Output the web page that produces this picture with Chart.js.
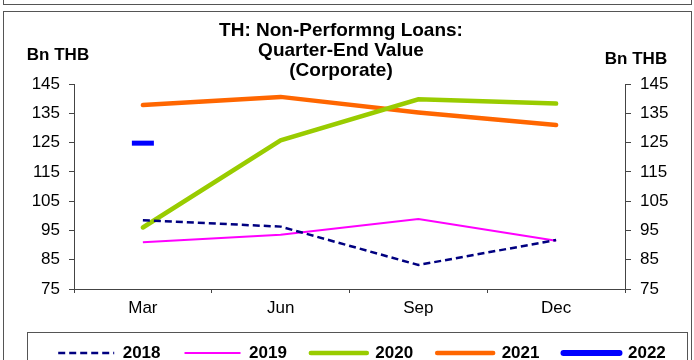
<!DOCTYPE html>
<html>
<head>
<meta charset="utf-8">
<script src="https://cdn.jsdelivr.net/npm/chart.js@4.4.1/dist/chart.umd.min.js"></script>
<style>
html, body { margin: 0; padding: 0; background: #fff; overflow: hidden; }
#wrap { position: relative; width: 694px; height: 360px; overflow: hidden; }
.frame { position: absolute; border: 1px solid #555; }
#nplChart { position: absolute; left: 0; top: 0; }
</style>
</head>
<body>
<div id="wrap">
    <div class="frame" style="left:3px; top:-10px; width:687px; height:13px;"></div>
    <div class="frame" style="left:3px; top:11px; width:687px; height:400px;"></div>
    <canvas id="nplChart"></canvas>
</div>
<script>
// Данные
const quarters = ['Mar', 'Jun', 'Sep', 'Dec'];
const years = ['2018', '2019', '2020', '2021', '2022'];
const npl2018 = [98.5, 96.3, 83.2, 91.7];
const npl2019 = [91.0, 93.5, 98.9, 91.5];
const npl2020 = [96.0, 125.8, 139.8, 138.3];
const npl2021 = [137.8, 140.6, 135.3, 131.0];
const npl2022 = [124.8, null, null, null];
const axisMin = 75;
const axisMax = 145;
const axisStep = 10;
const titleLines = ['TH: Non-Performng Loans:', 'Quarter-End Value', '(Corporate)'];
const unitLabel = 'Bn THB';

const FONT = '"Liberation Sans", Arial, sans-serif';
const axisColor = '#444';
Chart.defaults.font.family = FONT;

const canvas = document.getElementById('nplChart');
canvas.width = 694;
canvas.height = 380;
const ctx = canvas.getContext('2d');

// Заголовок, подписи осей и рамка легенды
const textPlugin = {
    id: 'textPlugin',
    afterDraw: (chart) => {
        const c = chart.ctx;
        c.save();
        c.fillStyle = '#000';
        c.textAlign = 'center';
        c.textBaseline = 'middle';
        c.font = `bold 19px ${FONT}`;
        titleLines.forEach((t, i) => c.fillText(t, 341, 31 + i * 20));
        c.font = `bold 17px ${FONT}`;
        c.fillText(unitLabel, 58, 55);
        c.fillText(unitLabel, 636, 59);

        const lg = chart.legend;
        c.strokeStyle = '#555';
        c.lineWidth = 1;
        c.strokeRect(27.5, Math.round(lg.top + 11) + 0.5, 660, 80);
        c.restore();
    }
};

const tickFont = { size: 17, family: FONT };

const nplChart = new Chart(ctx, {
    type: 'line',
    data: {
        labels: quarters,
        datasets: [
            { label: years[0], data: npl2018, borderColor: '#000080', borderWidth: 2.5, borderDash: [7, 4], pointRadius: 0 },
            { label: years[1], data: npl2019, borderColor: '#FF00FF', borderWidth: 2, pointRadius: 0 },
            { label: years[2], data: npl2020, borderColor: '#99CC00', borderWidth: 4.5, borderCapStyle: 'round', pointRadius: 0 },
            { label: years[3], data: npl2021, borderColor: '#FF6600', borderWidth: 4.5, borderCapStyle: 'round', pointRadius: 0 },
            { label: years[4], data: npl2022, borderColor: '#0000FF', borderWidth: 6, borderCapStyle: 'round', showLine: false,
              pointStyle: 'line', pointRadius: 11, pointBorderWidth: 5, pointBorderColor: '#0000FF', pointBackgroundColor: '#0000FF' }
        ]
    },
    options: {
        responsive: false,
        maintainAspectRatio: false,
        animation: false,
        layout: {
            padding: { left: 30, right: 0, top: 84, bottom: 8.5 }
        },
        plugins: {
            title: { display: false },
            tooltip: { enabled: false },
            legend: {
                display: true,
                position: 'bottom',
                align: 'center',
                labels: {
                    usePointStyle: true,
                    pointStyle: 'line',
                    pointStyleWidth: 56,
                    padding: 24,
                    color: '#000',
                    font: { size: 17, weight: 'bold', family: FONT },
                    generateLabels: (chart) => {
                        const items = Chart.defaults.plugins.legend.labels.generateLabels(chart);
                        return items.map(item => {
                            const ds = chart.data.datasets[item.datasetIndex];
                            item.strokeStyle = ds.borderColor;
                            item.lineWidth = ds.borderWidth;
                            item.lineDash = ds.borderDash || [];
                            item.lineCap = ds.borderCapStyle || 'butt';
                            return item;
                        });
                    }
                }
            }
        },
        scales: {
            x: {
                offset: true,
                grid: { display: true, drawOnChartArea: false, offset: true, tickLength: 4, color: axisColor },
                border: { display: true, color: axisColor, width: 1 },
                ticks: { color: '#000', font: tickFont, padding: 5, autoSkip: false, maxRotation: 0 },
                afterFit: (scale) => { scale.height = 31.5; }
            },
            y: {
                position: 'left',
                min: axisMin,
                max: axisMax,
                grid: { drawOnChartArea: false, tickLength: 5, color: axisColor },
                border: { display: true, color: axisColor, width: 1 },
                ticks: { stepSize: axisStep, autoSkip: false, color: '#000', font: tickFont, padding: 9 },
                afterFit: (scale) => { scale.width = 44; }
            },
            y1: {
                position: 'right',
                display: true,
                min: axisMin,
                max: axisMax,
                grid: { drawOnChartArea: false, tickLength: 6, color: axisColor },
                border: { display: true, color: axisColor, width: 1 },
                ticks: { stepSize: axisStep, autoSkip: false, color: '#000', font: tickFont, padding: 9 },
                afterFit: (scale) => { scale.width = 69; }
            }
        }
    },
    plugins: [textPlugin]
});
</script>
</body>
</html>
